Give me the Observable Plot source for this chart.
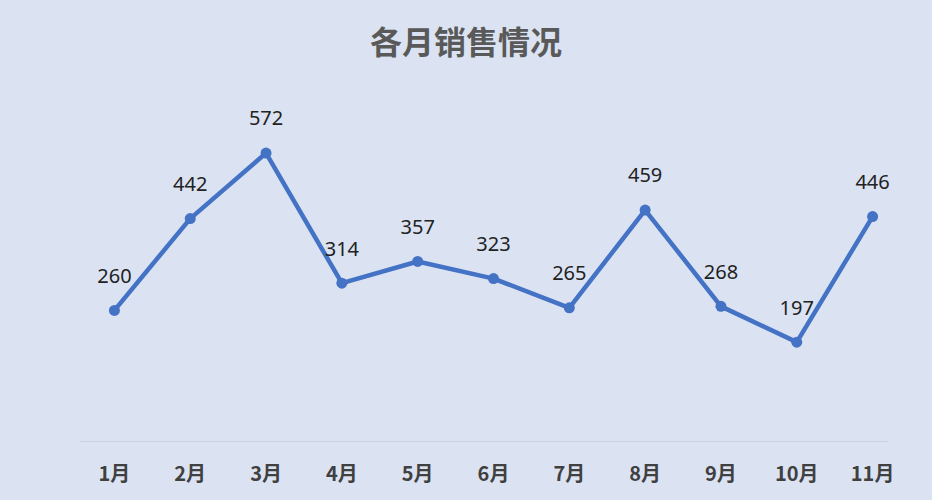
<!DOCTYPE html>
<html>
<head>
<meta charset="utf-8">
<script src="https://cdn.jsdelivr.net/npm/d3@7"></script>
<script src="https://cdn.jsdelivr.net/npm/@observablehq/plot@0.6"></script>
<style>
  html, body { margin: 0; padding: 0; background: #dbe3f3; width: 932px; height: 500px; overflow: hidden; }
  #title { height: 80px; line-height: 80px; text-align: center; font-family: "Noto Sans CJK SC", sans-serif; font-weight: 700; font-size: 32px; color: #595959; letter-spacing: 0px; }
  #chart svg { display: block; }
</style>
</head>
<body>
<div id="title">各月销售情况</div>
<div id="chart"></div>
<script>
const months = ["1月","2月","3月","4月","5月","6月","7月","8月","9月","10月","11月"];
const sales = [260, 442, 572, 314, 357, 323, 265, 459, 268, 197, 446];

const data = months.map((m, i) => ({month: m, value: sales[i]}));

const chart = Plot.plot({
  width: 932,
  height: 420,
  marginLeft: 76,
  marginRight: 22,
  marginTop: 8,
  marginBottom: 59,
  style: {background: "transparent", fontFamily: "\"Noto Sans CJK SC\", sans-serif"},
  x: {type: "point", domain: months, padding: 0.5, round: false, label: null},
  y: {domain: [0, 700], axis: null},
  marks: [
    Plot.ruleY([0], {stroke: "#c9d1e2", strokeWidth: 1.2, insetLeft: 4, insetRight: 22}),
    Plot.axisX({tickSize: 0, tickPadding: 25, fontSize: 20, fontWeight: 700, fill: "#404040", label: null}),
    Plot.line(data, {x: "month", y: "value", stroke: "#4472c4", strokeWidth: 4.5, strokeLinejoin: "round"}),
    Plot.dot(data, {x: "month", y: "value", r: 5.5, fill: "#4472c4", stroke: "none"}),
    Plot.text(data, {x: "month", y: "value", text: d => String(d.value), dy: -34, fontSize: 20, fill: "#222", fontFamily: "\"Noto Sans\", sans-serif"})
  ]
});
document.getElementById("chart").appendChild(chart);
</script>
</body>
</html>
